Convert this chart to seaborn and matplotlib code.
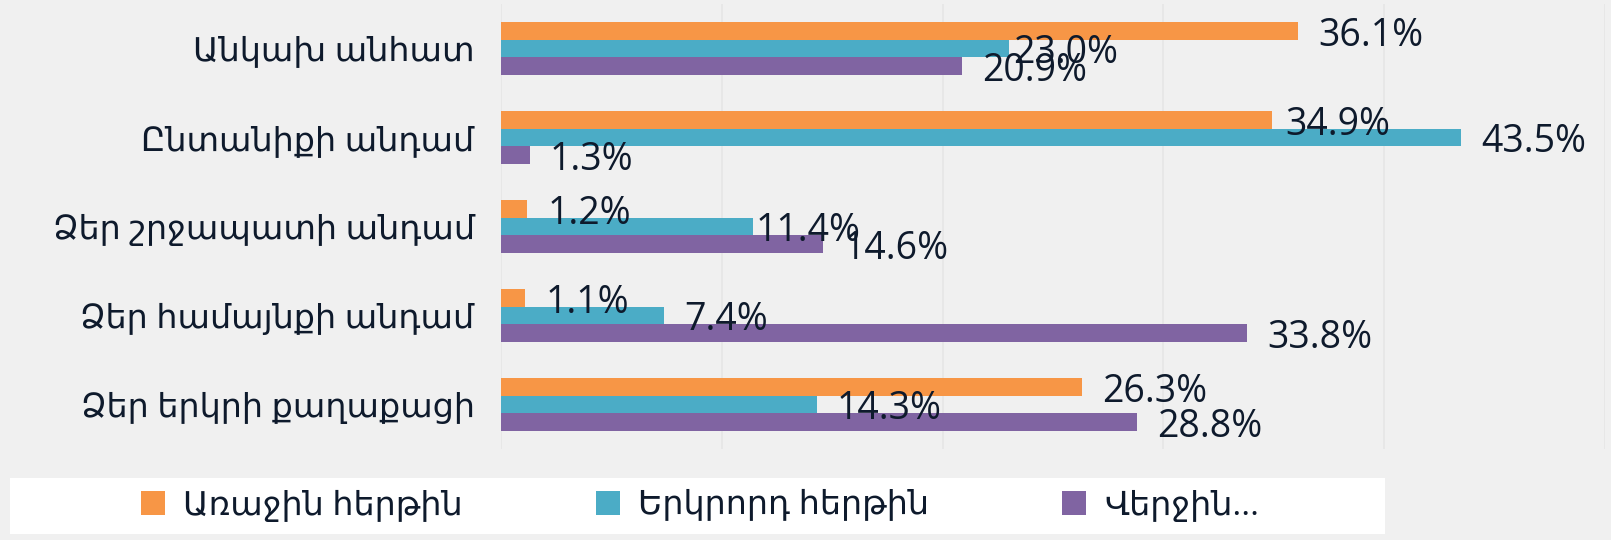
import matplotlib
matplotlib.use("Agg")
import matplotlib.pyplot as plt
from matplotlib.patches import Rectangle
import seaborn as sns
import pandas as pd

categories = ["Անկախ անհատ", "Ընտանիքի անդամ", "Ձեր շրջապատի անդամ",
              "Ձեր համայնքի անդամ", "Ձեր երկրի քաղաքացի"]
series_names = ["Առաջին հերթին", "Երկրորդ հերթին", "Վերջին..."]
first_values = [36.1, 34.9, 1.2, 1.1, 26.3]
second_values = [23.0, 43.5, 11.4, 7.4, 14.3]
last_values = [20.9, 1.3, 14.6, 33.8, 28.8]

colors = ["#F79646", "#4BACC6", "#8064A2"]
text_color = "#0E1A2C"
bg = "#F0F0F0"

rows = []
for name, vals in zip(series_names, [first_values, second_values, last_values]):
    for cat, v in zip(categories, vals):
        rows.append({"category": cat, "series": name, "value": v})
df = pd.DataFrame(rows)

sns.set_theme(style="white")
plt.rcParams["font.family"] = ["Open Sans", "DejaVu Sans"]

fig = plt.figure(figsize=(16.11, 5.40), dpi=100, facecolor=bg)
ax = fig.add_axes([501 / 1611, 1 - 449 / 540, (1605 - 501) / 1611, (449 - 4) / 540])
ax.set_facecolor(bg)

sns.barplot(data=df, y="category", x="value", hue="series", order=categories,
            hue_order=series_names, palette=colors, orient="h", width=0.6,
            gap=0, saturation=1, legend=False, ax=ax, linewidth=0)

ax.set_xlim(0, 50)
ax.set_ylim(4.5, -0.5)
ax.set_xticks([0, 10, 20, 30, 40, 50])
ax.set_xticklabels([])
ax.grid(axis="x", color="#E6E6E6", linewidth=1.2)
ax.grid(axis="y", visible=False)
ax.set_axisbelow(True)
for s in ax.spines.values():
    s.set_visible(False)
ax.tick_params(axis="both", length=0)
ax.tick_params(axis="y", pad=19, labelsize=24, labelcolor=text_color)
ax.set_xlabel("")
ax.set_ylabel("")

# label padding in pixels (default 20), a few labels sit closer to their bars
special_pad = {(1, 0): 4, (1, 2): 3, (0, 1): 14}
for si, cont in enumerate(ax.containers):
    for ci, patch in enumerate(cont.patches):
        w = patch.get_width()
        yc = patch.get_y() + patch.get_height() / 2
        pad = special_pad.get((si, ci), 20)
        ax.annotate(f"{w:.1f}%", xy=(w, yc), xytext=(pad * 0.72, -3.5),
                    textcoords="offset points", ha="left", va="center",
                    fontsize=27, color=text_color, annotation_clip=False)

# legend box
fig.add_artist(Rectangle((10 / 1611, 1 - 534 / 540), (1385 - 10) / 1611, 56 / 540,
                         transform=fig.transFigure, facecolor="white",
                         edgecolor="none", zorder=0))
handles = [cont.patches[0] for cont in ax.containers]
leg = fig.legend(handles=handles, labels=series_names, ncol=3, frameon=False,
                 loc="center left", bbox_to_anchor=(141 / 1611, 1 - 506 / 540),
                 borderpad=0, borderaxespad=0, fontsize=24, labelcolor=text_color,
                 handlelength=0.72, handleheight=0.72, handletextpad=0.54,
                 columnspacing=4.0)

fig.savefig("out.png", dpi=100, facecolor=bg)
